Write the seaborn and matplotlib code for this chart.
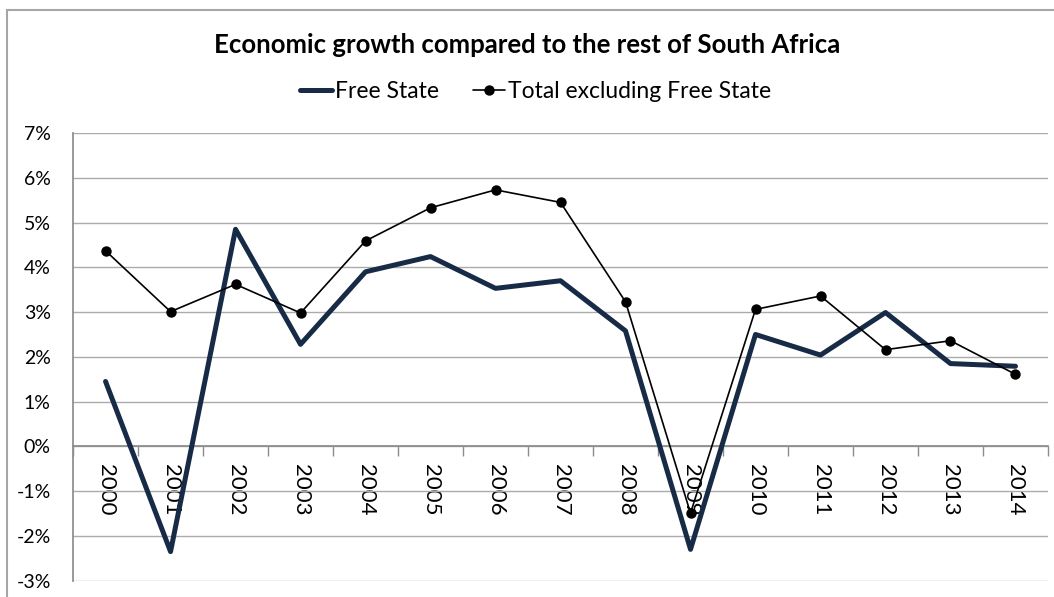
import numpy as np
import pandas as pd
import matplotlib
matplotlib.use("Agg")
import matplotlib.pyplot as plt
import seaborn as sns
from matplotlib.lines import Line2D
from matplotlib.patches import Rectangle
from matplotlib.ticker import FixedLocator, FuncFormatter

# Annual real GDP growth, percent
years = ["2000", "2001", "2002", "2003", "2004", "2005", "2006", "2007",
         "2008", "2009", "2010", "2011", "2012", "2013", "2014"]
free_state = [1.45, -2.35, 4.85, 2.28, 3.90, 4.24, 3.53, 3.70,
              2.58, -2.30, 2.50, 2.04, 2.99, 1.85, 1.79]
rest_of_sa = [4.37, 3.01, 3.62, 2.98, 4.59, 5.33, 5.73, 5.45,
              3.23, -1.49, 3.06, 3.36, 2.16, 2.36, 1.61]
series_names = ["Free State", "Total excluding Free State"]
title = "Economic growth compared to the rest of South Africa"
y_ticks = list(range(-3, 8))

sns.set_theme(style="white")
plt.rcParams["font.family"] = ["Lato", "DejaVu Sans"]
plt.rcParams["text.color"] = "black"

navy = "#172B47"
grid_grey = "#ABABAB"
axis_grey = "#8C8C8C"

df = pd.DataFrame({"year": years,
                   series_names[0]: free_state,
                   series_names[1]: rest_of_sa})

fig = plt.figure(figsize=(10.54, 5.97), dpi=100)
ax = fig.add_axes([0.0693, 0.0273, 0.9250, 0.7499])

sns.lineplot(data=df, x="year", y=series_names[0], ax=ax, color=navy,
             linewidth=3.6, sort=False, zorder=3)
sns.lineplot(data=df, x="year", y=series_names[1], ax=ax, color="black",
             linewidth=1.2, marker="o", markersize=7.5, markeredgewidth=0,
             sort=False, zorder=4)

n = len(years)
ax.set_xlim(-0.5, n - 0.5)
ax.set_ylim(min(y_ticks), max(y_ticks))
ax.set_xlabel("")
ax.set_ylabel("")

# Horizontal gridlines
ax.yaxis.set_major_locator(FixedLocator(y_ticks))
ax.yaxis.set_major_formatter(FuncFormatter(lambda v, _: f"{v:.0f}%"))
ax.grid(axis="y", color=grid_grey, linewidth=1.0, zorder=0)
ax.grid(axis="x", visible=False)
ax.tick_params(axis="y", which="major", length=6, width=1, color=axis_grey,
               direction="out", labelsize=14, pad=10, labelcolor="black")

# Category axis crossing at zero, tick marks between categories
ax.spines["bottom"].set_position(("data", 0))
ax.spines["bottom"].set_color(axis_grey)
ax.spines["left"].set_color(axis_grey)
ax.spines["top"].set_visible(False)
ax.spines["right"].set_visible(False)
ax.xaxis.set_major_locator(FixedLocator(range(n)))
ax.set_xticklabels(years, rotation=-90, fontsize=16)
ax.xaxis.set_minor_locator(FixedLocator(np.arange(-0.5, n, 1.0)))
ax.tick_params(axis="x", which="major", length=0, pad=13, labelcolor="black")
ax.tick_params(axis="x", which="minor", length=7, width=1,
               color=axis_grey, direction="out", bottom=True)
for lbl in ax.get_xticklabels():
    lbl.set_va("top")
    lbl.set_ha("center")

fig.text(0.5, 0.925, title, ha="center", va="center",
         fontsize=18.5, fontweight="bold", color="black")

handles = [Line2D([], [], color=navy, linewidth=3.6),
           Line2D([], [], color="black", linewidth=1.2, marker="o",
                  markersize=7.5, markeredgewidth=0)]
fig.legend(handles, series_names, loc="center", bbox_to_anchor=(0.508, 0.847),
           ncol=2, frameon=False, fontsize=16.5, handlelength=1.4,
           handletextpad=0.12, columnspacing=1.5, labelcolor="black")

# Chart area outline
fig.patches.append(Rectangle((7 / 1054, -0.1), 1.2, 1 - 10 / 597 + 0.1,
                             transform=fig.transFigure, fill=False,
                             edgecolor="#A6A6A6", linewidth=1.5))

fig.savefig("out.png", dpi=100)
